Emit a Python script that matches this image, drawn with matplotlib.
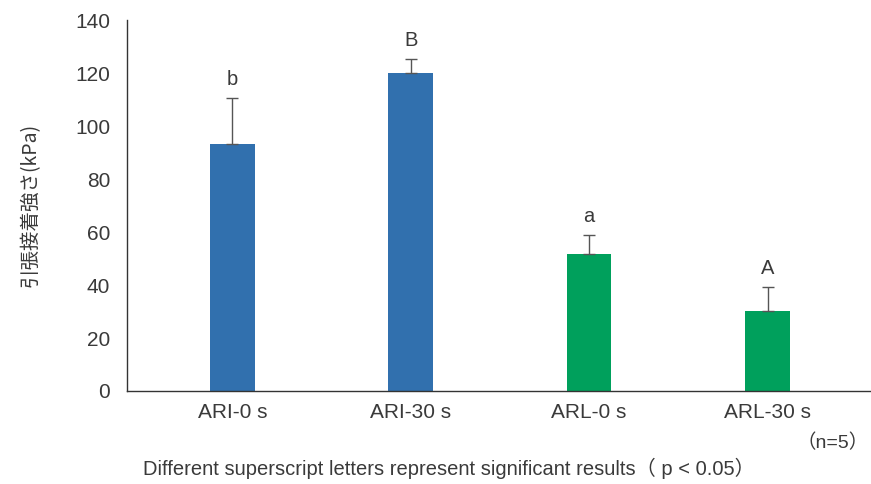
import matplotlib
matplotlib.use("Agg")
import matplotlib.pyplot as plt

plt.rcParams['font.family'] = ['Liberation Sans', 'Noto Sans CJK JP', 'DejaVu Sans']

categories = ["ARI-0 s", "ARI-30 s", "ARL-0 s", "ARL-30 s"]
means = [93.2, 120.0, 51.7, 30.2]
errors = [17.4, 5.3, 7.2, 9.0]
letters = ["b", "B", "a", "A"]
bar_colors = ["#3170AE", "#3170AE", "#00A05C", "#00A05C"]
yticks = [0, 20, 40, 60, 80, 100, 120, 140]

text_color = "#3a3a3a"

fig = plt.figure(figsize=(8.71, 4.84), dpi=100)
ax = fig.add_axes([127/871, 1-391/484, 1-127/871, (391-20)/484])

x = list(range(len(categories)))
ax.bar(x, means, width=0.25, color=bar_colors, zorder=2)
ax.errorbar(x, means, yerr=[[0]*len(errors), errors], fmt='none',
            ecolor="#555555", elinewidth=1.0, capsize=4, capthick=1.0, zorder=3)
for xi, m, e, l in zip(x, means, errors, letters):
    ax.text(xi, m + e + 3.5, l, ha='center', va='bottom', fontsize=14.5, color=text_color)

ax.set_xlim(-0.59, 3.58)
ax.set_ylim(0, 140)
ax.set_yticks(yticks)
ax.set_xticks(x)
ax.set_xticklabels(categories)
ax.tick_params(axis='both', length=0, labelsize=15, colors=text_color)
ax.tick_params(axis='x', pad=9)
ax.tick_params(axis='y', pad=12)
for s in ['top', 'right']:
    ax.spines[s].set_visible(False)
for s in ['left', 'bottom']:
    ax.spines[s].set_color("#333333")
    ax.spines[s].set_linewidth(1.0)

fig.text(30/871, 1-205/484, "引張接着強さ(kPa)", rotation=90, ha='center', va='center',
         fontsize=14, color=text_color, family=['Noto Sans CJK JP', 'DejaVu Sans'])
fig.text(869/871, 1-443/484, "（n=5）", ha='right', va='center', fontsize=14, color=text_color)
fig.text(143/871, 1-468/484, "Different superscript letters represent significant results（ p < 0.05）",
         ha='left', va='center', fontsize=14.5, color=text_color)

fig.savefig("out.png", dpi=100)
